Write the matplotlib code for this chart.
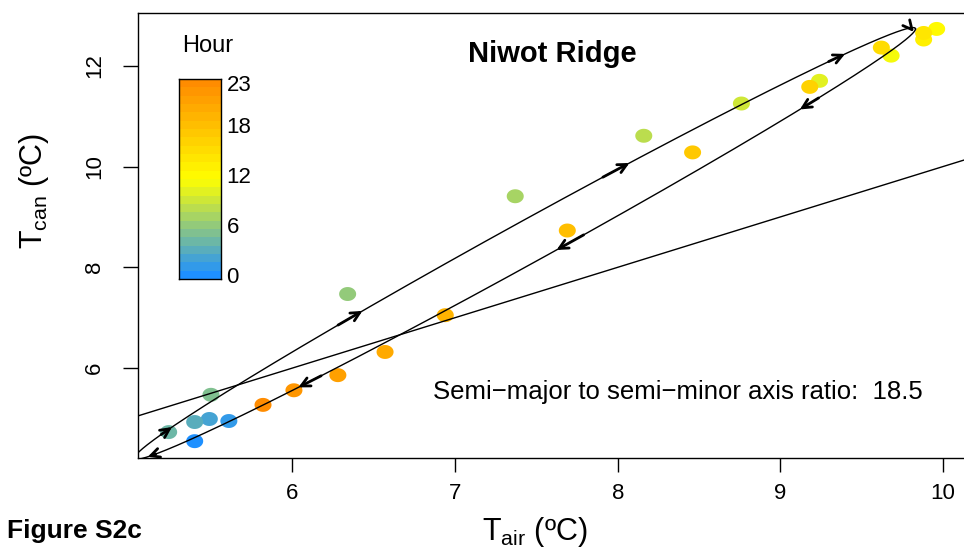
import numpy as np
import matplotlib
matplotlib.use("Agg")
import matplotlib.pyplot as plt
from matplotlib.colors import LinearSegmentedColormap

plt.rcParams['font.family'] = ['Liberation Sans', 'DejaVu Sans']
plt.rcParams['mathtext.fontset'] = 'custom'
plt.rcParams['mathtext.rm'] = 'Liberation Sans'

# hourly means, Niwot Ridge
hours = list(range(24))
t_air = [5.40, 5.61, 5.49, 5.40, 5.24, 5.50, 6.34, 7.37, 8.16, 8.76, 9.24, 9.68,
         9.96, 9.88, 9.88, 9.62, 9.18, 8.46, 7.69, 6.94, 6.57, 6.28, 6.01, 5.82]
t_can = [4.55, 4.95, 4.99, 4.93, 4.73, 5.47, 7.47, 9.41, 10.61, 11.25, 11.70, 12.20,
         12.73, 12.52, 12.65, 12.36, 11.58, 10.28, 8.73, 7.05, 6.32, 5.86, 5.56, 5.27]

# fitted hysteresis ellipse
ell_cx, ell_cy = 7.43, 8.474
ell_bx, ell_by = 2.40, 4.256
ell_retention = 0.475
axis_ratio = 18.5
# where the direction arrows sit on the loop (phase, radians)
arrow_phase = [2.70, 2.00, 1.30, 0.61, -0.09, -0.79, -1.49, -2.19, -2.88]

cbar_ticks = [0, 6, 12, 18, 23]

cmap = LinearSegmentedColormap.from_list("hour", ["#1E90FF", "#FFFF00", "#FF8C00"], N=24)


def loop(th):
    x = ell_cx + ell_bx*np.cos(th)
    y = ell_cy + ell_by*np.cos(th) + ell_retention*np.sin(th)
    return x, y


fig = plt.figure(figsize=(9.64, 5.5), dpi=100)
ax = fig.add_axes([138.3/964, 1-457.7/550, 1-138.3/964, (457.7-12.5)/550])

th = np.linspace(0, 2*np.pi, 500)
verts = np.column_stack([np.cos(th), 0.82*np.sin(th)])
ax.scatter(t_air, t_can, c=hours, cmap=cmap, vmin=-0.5, vmax=23.5,
           s=150, marker=verts, linewidths=0, zorder=2)

ex, ey = loop(th)
ax.plot(ex, ey, color="k", lw=1.0, zorder=3)
ax.axline((0, 0), slope=1, color="k", lw=1.0, zorder=3)

for p in arrow_phase:
    x1, y1 = loop(p)
    d = 0.07 if abs(p) > 0.3 else 0.25
    x0, y0 = loop(p + d)
    ax.annotate("", xy=(x1, y1), xytext=(x0, y0),
                arrowprops=dict(arrowstyle="->", color="k", lw=2.0,
                                mutation_scale=16, shrinkA=0, shrinkB=0),
                zorder=4)

ax.set_xlim(5.0535, 10.128)
ax.set_ylim(4.222, 13.056)
ax.set_xticks([6, 7, 8, 9, 10])
ax.set_yticks([6, 8, 10, 12])
ax.spines["right"].set_visible(False)
for s in ["left", "top", "bottom"]:
    ax.spines[s].set_linewidth(1.0)
ax.tick_params(axis="x", direction="out", length=10, width=1.0, labelsize=16, pad=8)
ax.tick_params(axis="y", direction="out", length=11, width=1.0, labelsize=16, pad=13,
               labelrotation=90)
for lab in ax.get_yticklabels():
    lab.set_verticalalignment("center")

# colour key
cax = fig.add_axes([179/964, 1-279/550, 42/964, 200/550])
cax.pcolormesh([0, 1], np.arange(-0.5, 24.5, 1), np.array(hours).reshape(-1, 1),
               cmap=cmap, vmin=-0.5, vmax=23.5)
cax.set_xticks([])
cax.set_yticks(cbar_ticks)
cax.yaxis.tick_right()
cax.tick_params(axis="y", length=0, pad=4, labelsize=16)
for s in cax.spines.values():
    s.set_linewidth(1.0)
fig.text(208/964, 1-52/550, "Hour", ha="center", va="baseline", fontsize=17)

fig.text(552/964, 1-62/550, "Niwot Ridge", ha="center", va="baseline",
         fontsize=21, fontweight="bold")
fig.text(678/964, 1-399/550,
         "Semi\u2212major to semi\u2212minor axis ratio:  %.1f" % axis_ratio,
         ha="center", va="baseline", fontsize=18.5)

fig.text(535/964, 10/550, r"T$_{\mathregular{air}}$ (ºC)", ha="center", va="baseline",
         fontsize=22)
fig.text(42/964, 1-191/550, r"T$_{\mathregular{can}}$ (ºC)", ha="center", va="baseline",
         rotation=90, rotation_mode="anchor", fontsize=22)
fig.text(7/964, 12/550, "Figure S2c", ha="left", va="baseline",
         fontsize=19, fontweight="bold")

fig.savefig("out.png", dpi=100)
